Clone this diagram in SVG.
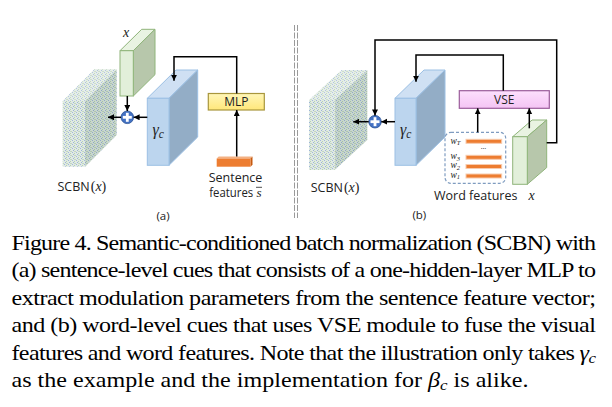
<svg xmlns="http://www.w3.org/2000/svg" width="612" height="407" viewBox="0 0 612 407">
<style>
.ln{fill:none;stroke:#000;stroke-width:1.5;marker-end:url(#ah)}
.sans{font-family:"Open Sans","Noto Sans","Liberation Sans",sans-serif;fill:#222}
.math{font-family:"Liberation Serif","DejaVu Serif",serif;font-style:italic;fill:#222}
.up{font-style:normal}
.cap{font-family:"Liberation Serif","Times New Roman",serif;font-size:20px;fill:#000}
.tex-front{fill:url(#tex)}
.shade-top{fill:#fff;opacity:0.2}
.shade-side{fill:#3a5a48;opacity:0.14}
.g-front{fill:#bcd5ee;stroke:#9cc0e4;stroke-width:1}
.g-top{fill:#cfe0f3;stroke:#9cc0e4;stroke-width:1}
.g-side{fill:#93adc6;stroke:#9cc0e4;stroke-width:1}
.x-front{fill:#e2efda;stroke:#8fb47a;stroke-width:1}
.x-top{fill:#e9f3e2;stroke:#8fb47a;stroke-width:1}
.x-side{fill:#b7c7ab;stroke:#8fb47a;stroke-width:1}
.plus-c{fill:#4472c4;stroke:#2f5597;stroke-width:0.8}
.bar{fill:#ed7d31;stroke:#f8cbad;stroke-width:1}
</style>
<defs>
<marker id="ah" markerUnits="userSpaceOnUse" markerWidth="7" markerHeight="7" refX="6" refY="3" orient="auto">
<path d="M0,0 L6,3 L0,6 z" fill="#000"/>
</marker>
<pattern id="tex" width="4" height="4" patternUnits="userSpaceOnUse">
<rect width="4" height="4" fill="#e0eae2"/>
<rect x="0" y="0" width="1" height="1" fill="#a2b8dc"/>
<rect x="2" y="1" width="1" height="1" fill="#b4d0b6"/>
<rect x="1" y="2" width="1" height="1" fill="#9cb4d8"/>
<rect x="3" y="3" width="1" height="1" fill="#bed6c0"/>
<rect x="2" y="3" width="1" height="1" fill="#c4d4c8"/>
</pattern>
<linearGradient id="mlpg" x1="0" y1="0" x2="0" y2="1">
<stop offset="0" stop-color="#fff6b8"/><stop offset="1" stop-color="#ffe77a"/>
</linearGradient>
<linearGradient id="vseg" x1="0" y1="0" x2="0" y2="1">
<stop offset="0" stop-color="#fde0fd"/><stop offset="1" stop-color="#f4c4f4"/>
</linearGradient>
</defs>

<!-- Panel (a) -->
<g id="a-scbn">
<polygon class="tex-front" points="62.7,101 85,101 116.7,69.3 94.4,69.3"/>
<polygon class="shade-top" points="62.7,101 85,101 116.7,69.3 94.4,69.3"/>
<polygon class="tex-front" points="85,101 116.7,69.3 116.7,135 85,166.7"/>
<polygon class="shade-side" points="85,101 116.7,69.3 116.7,135 85,166.7"/>
<rect class="tex-front" x="62.7" y="101" width="22.3" height="65.7"/>
<text class="sans" x="57.5" y="191" font-size="12.5">SCBN<tspan class="math up" font-size="14" dx="1">(</tspan><tspan class="math" font-size="14">x</tspan><tspan class="math up" font-size="14">)</tspan></text>
</g>
<g id="a-x">
<polygon class="x-top" points="120,50.7 133.3,50.7 155,29.3 141.7,29.3"/>
<polygon class="x-side" points="133.3,50.7 155,29.3 155,74.6 133.3,96"/>
<rect class="x-front" x="120" y="50.7" width="13.3" height="45.3"/>
<text class="math" x="126" y="37" font-size="14" text-anchor="middle">x</text>
</g>
<g id="a-plus">
<circle class="plus-c" cx="127.3" cy="117.3" r="6.3"/>
<rect x="122.8" y="115.9" width="9" height="2.8" fill="#fff"/>
<rect x="125.9" y="112.8" width="2.8" height="9" fill="#fff"/>
</g>
<g id="a-gamma">
<polygon class="g-top" points="147.3,98.3 169,98.3 197.7,70 176,70"/>
<polygon class="g-side" points="169,98.3 197.7,70 197.7,137 169,165.3"/>
<rect class="g-front" x="147.3" y="98.3" width="21.7" height="67"/>
<text class="math" x="152.5" y="135" font-size="16">γ<tspan font-size="11.5" dy="3">c</tspan></text>
</g>
<g id="a-mlp">
<rect x="208.3" y="93.5" width="56" height="16.5" fill="url(#mlpg)" stroke="#a8963c" stroke-width="1.2"/>
<text class="sans" x="236.3" y="106" font-size="12" text-anchor="middle">MLP</text>
</g>
<g id="a-sent">
<polygon points="216.7,158.5 250.5,158.5 252.5,156.5 218.7,156.5" fill="#f4b183"/>
<polygon points="250.5,158.5 252.5,156.5 252.5,164.7 250.5,166.7" fill="#c55a11"/>
<rect x="216.7" y="158.5" width="33.8" height="8.2" fill="#ed7d31"/>
<text class="sans" x="235.5" y="181.7" font-size="12.5" text-anchor="middle">Sentence</text>
<text class="sans" x="209.3" y="197.3" font-size="12.5" textLength="44" lengthAdjust="spacingAndGlyphs">features</text>
<text class="math" x="256.5" y="197.3" font-size="13">s</text>
<line x1="256" y1="187.3" x2="262" y2="187.3" stroke="#222" stroke-width="0.8"/>
</g>
<text class="sans" x="163" y="220" font-size="11.5" text-anchor="middle">(a)</text>

<!-- separator -->
<g id="sep" stroke="#9a9a9a" stroke-width="1" stroke-dasharray="6,1.5">
<line x1="294.5" y1="25" x2="294.5" y2="218"/>
<line x1="297.5" y1="25" x2="297.5" y2="218"/>
</g>

<!-- Panel (b) -->
<g id="b-scbn">
<polygon class="tex-front" points="309,100 334.6,100 367.3,70 341.7,70"/>
<polygon class="shade-top" points="309,100 334.6,100 367.3,70 341.7,70"/>
<polygon class="tex-front" points="334.6,100 367.3,70 367.3,140 334.6,170"/>
<polygon class="shade-side" points="334.6,100 367.3,70 367.3,140 334.6,170"/>
<rect class="tex-front" x="309" y="100" width="25.6" height="70"/>
<text class="sans" x="310.7" y="191.7" font-size="12.5">SCBN<tspan class="math up" font-size="14" dx="1">(</tspan><tspan class="math" font-size="14">x</tspan><tspan class="math up" font-size="14">)</tspan></text>
</g>
<g id="b-plus">
<circle class="plus-c" cx="375" cy="121.7" r="6.3"/>
<rect x="370.5" y="120.3" width="9" height="2.8" fill="#fff"/>
<rect x="373.6" y="117.2" width="2.8" height="9" fill="#fff"/>
</g>
<g id="b-gamma">
<polygon class="g-top" points="395,98.3 416,98.3 445,70 424,70"/>
<polygon class="g-side" points="416,98.3 445,70 445,137 416,165.3"/>
<rect class="g-front" x="395" y="98.3" width="21" height="67"/>
<text class="math" x="400" y="135" font-size="16">γ<tspan font-size="11.5" dy="3">c</tspan></text>
</g>
<g id="b-vse">
<rect x="459.3" y="90.7" width="90" height="17.6" fill="url(#vseg)" stroke="#9b5c9b" stroke-width="1.2"/>
<text class="sans" x="504.3" y="104" font-size="12" text-anchor="middle">VSE</text>
</g>
<g id="b-words">
<rect x="445" y="132.3" width="60.7" height="51" rx="6" fill="none" stroke="#7f9cc0" stroke-width="1.2" stroke-dasharray="3,2"/>
<rect class="bar" x="466" y="139.3" width="35.7" height="4"/>
<rect class="bar" x="466" y="155.3" width="35.7" height="4"/>
<rect class="bar" x="466" y="164.5" width="35.7" height="4"/>
<rect class="bar" x="466" y="174" width="35.7" height="4"/>
<text class="sans" x="483.5" y="149" font-size="7" text-anchor="middle">…</text>
<text class="math" x="450.5" y="143.8" font-size="9.5">w<tspan font-size="6.5" dy="1.5">T</tspan></text>
<text class="math" x="450.5" y="159.2" font-size="9.5">w<tspan font-size="6.5" dy="1.5">3</tspan></text>
<text class="math" x="450.5" y="168.4" font-size="9.5">w<tspan font-size="6.5" dy="1.5">2</tspan></text>
<text class="math" x="450.5" y="177.9" font-size="9.5">w<tspan font-size="6.5" dy="1.5">1</tspan></text>
<text class="sans" x="475.7" y="200" font-size="12.5" text-anchor="middle">Word features</text>
</g>
<g id="b-x">
<polygon class="x-top" points="512.7,136.7 527.3,136.7 546.7,120 532.1,120"/>
<polygon class="x-side" points="527.3,136.7 546.7,120 546.7,167.6 527.3,184.3"/>
<rect class="x-front" x="512.7" y="136.7" width="14.6" height="47.6"/>
<text class="math" x="531.7" y="199.5" font-size="14" text-anchor="middle">x</text>
</g>
<text class="sans" x="419.3" y="218.5" font-size="11.5" text-anchor="middle">(b)</text>

<g id="connectors">
<line class="ln" x1="127.3" y1="96" x2="127.3" y2="111"/>
<line class="ln" x1="147.3" y1="117.3" x2="133.6" y2="117.3"/>
<line class="ln" x1="121" y1="117.3" x2="108" y2="117.3"/>
<path class="ln" d="M236.7,93.5 V56.7 H174 V80.7"/>
<line class="ln" x1="236.7" y1="156.5" x2="236.7" y2="110"/>
<line class="ln" x1="368.7" y1="121.7" x2="353.3" y2="121.7"/>
<line class="ln" x1="395" y1="121.7" x2="381.3" y2="121.7"/>
<path class="ln" d="M503.3,90.7 V55 H416 V81.7"/>
<path class="ln" d="M546.7,142.7 H556.7 V40 H375 V115.4"/>
<line class="ln" x1="477.7" y1="132.3" x2="477.7" y2="108.3"/>
<line class="ln" x1="529.3" y1="128.3" x2="529.3" y2="108.3"/>
</g>

<g id="caption" class="cap" transform="translate(11.5,0) scale(1.205,1)">
<text x="0" y="250" textLength="485" lengthAdjust="spacing">Figure 4. Semantic-conditioned batch normalization (SCBN) with</text>
<text x="0" y="277.4" textLength="485" lengthAdjust="spacing">(a) sentence-level cues that consists of a one-hidden-layer MLP to</text>
<text x="0" y="304.8" textLength="485" lengthAdjust="spacing">extract modulation parameters from the sentence feature vector;</text>
<text x="0" y="332.2" textLength="485" lengthAdjust="spacing">and (b) word-level cues that uses VSE module to fuse the visual</text>
<text x="0" y="359.6" textLength="485" lengthAdjust="spacing">features and word features. Note that the illustration only takes <tspan font-style="italic">γ</tspan><tspan font-style="italic" font-size="14" dy="3">c</tspan></text>
<text x="0" y="387">as the example and the implementation for <tspan font-style="italic">β</tspan><tspan font-style="italic" font-size="14" dy="3">c</tspan><tspan dy="-3"> is alike.</tspan></text>
</g>
</svg>
